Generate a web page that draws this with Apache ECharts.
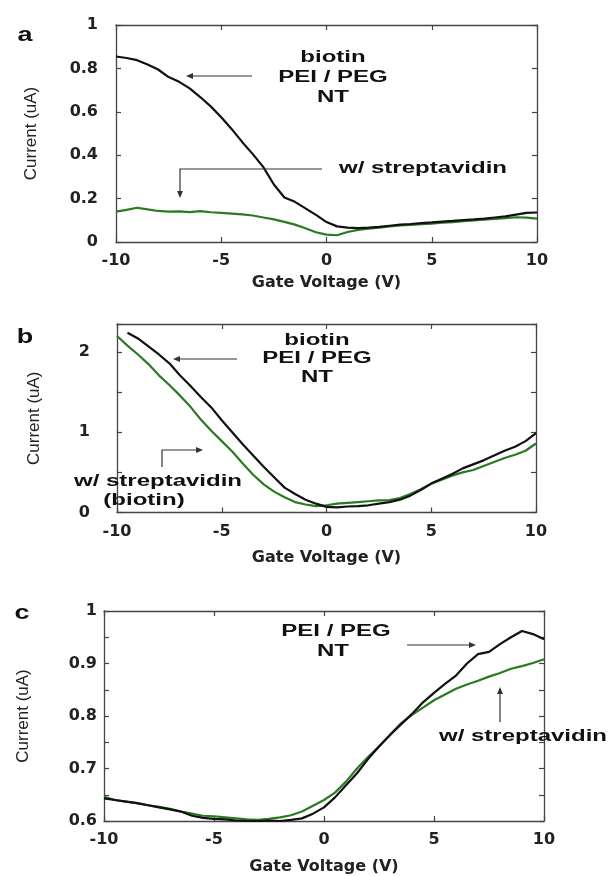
<!DOCTYPE html>
<html>
<head>
<meta charset="utf-8">
<script src="https://cdn.jsdelivr.net/npm/echarts@6/dist/echarts.min.js"></script>
<style>
html,body{margin:0;padding:0;background:#fff;}
#chart{width:615px;height:876px;}
</style>
</head>
<body>
<div id="chart"></div>
<script>
// ---------------- DATA ----------------
const voltage = [-10,-9.5,-9,-8.5,-8,-7.5,-7,-6.5,-6,-5.5,-5,-4.5,-4,-3.5,-3,-2.5,-2,-1.5,-1,-0.5,0,
                 0.5,1,1.5,2,2.5,3,3.5,4,4.5,5,5.5,6,6.5,7,7.5,8,8.5,9,9.5,10];

// panel a
const aBiotin = [0.855,0.848,0.838,0.818,0.795,0.760,0.738,0.708,0.668,0.625,0.575,0.520,0.460,0.405,0.345,0.265,0.205,0.185,0.155,0.125,0.092,
                 0.072,0.066,0.064,0.066,0.070,0.075,0.080,0.083,0.087,0.090,0.094,0.097,0.101,0.104,0.108,0.113,0.118,0.126,0.134,0.136];
const aStrep  = [0.140,0.148,0.158,0.150,0.143,0.140,0.141,0.138,0.142,0.137,0.134,0.131,0.127,0.122,0.113,0.104,0.093,0.080,0.063,0.045,0.034,
                 0.031,0.046,0.056,0.061,0.066,0.072,0.076,0.079,0.082,0.085,0.089,0.092,0.096,0.099,0.103,0.106,0.110,0.114,0.112,0.108];
// panel b
const bBiotin = [null,2.24,2.17,2.07,1.97,1.86,1.71,1.58,1.44,1.31,1.15,1.00,0.85,0.71,0.57,0.44,0.31,0.23,0.16,0.11,0.07,
                 0.065,0.075,0.08,0.09,0.11,0.13,0.16,0.21,0.28,0.36,0.42,0.48,0.55,0.60,0.65,0.71,0.77,0.82,0.89,0.99];
const bStrep  = [2.20,2.08,1.97,1.85,1.71,1.59,1.46,1.32,1.16,1.02,0.89,0.76,0.61,0.47,0.35,0.26,0.19,0.13,0.10,0.08,0.09,
                 0.11,0.12,0.13,0.14,0.15,0.155,0.18,0.23,0.29,0.36,0.41,0.46,0.50,0.53,0.58,0.63,0.68,0.72,0.77,0.86];
// panel c
const cNT     = [0.643,0.640,0.637,0.634,0.630,0.626,0.622,0.618,0.610,0.606,0.604,0.603,0.601,0.600,0.600,0.601,0.600,0.602,0.605,0.614,0.626,
                 0.645,0.668,0.691,0.718,0.742,0.764,0.784,0.804,0.826,0.844,0.861,0.877,0.900,0.918,0.922,0.937,0.950,0.962,0.956,0.946];
const cStrep  = [0.646,0.640,0.637,0.634,0.630,0.627,0.623,0.618,0.614,0.610,0.609,0.607,0.605,0.603,0.602,0.604,0.607,0.611,0.618,0.629,0.640,
                 0.654,0.675,0.700,0.722,0.742,0.764,0.786,0.802,0.816,0.830,0.841,0.852,0.860,0.867,0.875,0.882,0.890,0.895,0.901,0.908];

const xTicks = {min:-10, max:10, interval:5};
const yA = {min:0, max:1, interval:0.2};
const yB = {min:0, max:2.35, interval:0.5};
const yC = {min:0.6, max:1, interval:0.05};

const xName = 'Gate Voltage (V)';
const yName = 'Current (uA)';
const panelLetters = ['a','b','c'];

// ---------------- STYLE / LAYOUT ----------------
const BLACK = '#111111';
const GREEN = '#2b7a22';
const AXIS = '#444444';
const tickFont = {fontFamily:'DejaVu Sans', fontWeight:'bold', fontSize:16, color:'#222'};

const grids = [
  {left:116, top:25, width:421, height:217},
  {left:117, top:324, width:419, height:188.5},
  {left:104, top:611, width:440, height:211.5}
];
const yLabelMargin = [18, 27, 7];
const yNameGap = [76, 74, 72];
const xNameGap = [33, 37, 38];

function pairs(xs, ys){
  const out = [];
  for (let i=0;i<xs.length;i++) if (ys[i] !== null) out.push([xs[i], ys[i]]);
  return out;
}
function near(v, step){ const r = v/step; return Math.abs(r - Math.round(r)) < 1e-6; }

const xAxes = [], yAxes = [], series = [];
const yRanges = [yA, yB, yC];
const yFormat = [
  v => (near(v,0.2) ? String(+v.toFixed(1)) : ''),
  v => (near(v,1) ? String(Math.round(v)) : ''),
  v => (near(v,0.1) ? String(+v.toFixed(1)) : '')
];

grids.forEach((g, i) => {
  const line = {show:true, onZero:false, lineStyle:{color:AXIS, width:1.3}};
  const tick = {show:true, inside:true, length:5, lineStyle:{color:AXIS, width:1.2}};
  xAxes.push({type:'value', gridIndex:i, position:'bottom', min:xTicks.min, max:xTicks.max, interval:xTicks.interval,
    axisLine:line, axisTick:tick, splitLine:{show:false},
    axisLabel:Object.assign({margin:11}, tickFont),
    name:xName, nameLocation:'middle', nameGap:xNameGap[i],
    nameTextStyle:{fontFamily:'DejaVu Sans', fontWeight:'bold', fontSize:16, color:'#222'}});
  xAxes.push({type:'value', gridIndex:i, position:'top', min:xTicks.min, max:xTicks.max, interval:xTicks.interval,
    axisLine:line, axisTick:tick, splitLine:{show:false}, axisLabel:{show:false}});
  const r = yRanges[i];
  yAxes.push({type:'value', gridIndex:i, position:'left', min:r.min, max:r.max, interval:r.interval,
    axisLine:line, axisTick:tick, splitLine:{show:false},
    axisLabel:Object.assign({margin:yLabelMargin[i], formatter:yFormat[i], showMaxLabel:true}, tickFont),
    name:yName, nameLocation:'middle', nameGap:yNameGap[i],
    nameTextStyle:{fontFamily:'Liberation Sans', fontSize:17, color:'#222'}});
  yAxes.push({type:'value', gridIndex:i, position:'right', min:r.min, max:r.max, interval:r.interval,
    axisLine:line, axisTick:tick, splitLine:{show:false}, axisLabel:{show:false}});
});

const dataSets = [[aStrep, aBiotin],[bStrep, bBiotin],[cStrep, cNT]];
dataSets.forEach((pair, i) => {
  series.push({type:'line', xAxisIndex:2*i, yAxisIndex:2*i, data:pairs(voltage, pair[0]),
    showSymbol:false, lineStyle:{color:GREEN, width:2.2}, itemStyle:{color:GREEN}, z:2, animation:false});
  series.push({type:'line', xAxisIndex:2*i, yAxisIndex:2*i, data:pairs(voltage, pair[1]),
    showSymbol:false, lineStyle:{color:BLACK, width:2.2}, itemStyle:{color:BLACK}, z:3, animation:false});
});

// ---------------- ANNOTATIONS ----------------
const SX = 1.5;
function txt(text, x, y, opts){
  opts = opts || {};
  return {type:'text', x:x, y:y, scaleX: opts.scaleX || SX, z:100,
    style:{text:text, fill:'#111', font:(opts.weight||'bold')+' '+(opts.size||16)+'px "Liberation Sans", Arial, sans-serif',
      align:opts.align||'center', textAlign:opts.align||'center', verticalAlign:'middle', textVerticalAlign:'middle'}};
}
function poly(points){
  return {type:'polyline', z:100, shape:{points:points}, style:{stroke:'#333', lineWidth:1.2, fill:null}};
}
function head(x, y, dir){
  const L = 7, W = 3;
  let pts;
  if (dir==='left') pts = [[x,y],[x+L,y-W],[x+L,y+W]];
  else if (dir==='right') pts = [[x,y],[x-L,y-W],[x-L,y+W]];
  else if (dir==='down') pts = [[x,y],[x-W,y-L],[x+W,y-L]];
  else pts = [[x,y],[x-W,y+L],[x+W,y+L]];
  return {type:'polygon', z:100, shape:{points:pts}, style:{fill:'#333'}};
}

const graphic = [
  txt(panelLetters[0], 25, 35, {size:20, scaleX:1.35}),
  txt(panelLetters[1], 25, 337, {size:20, scaleX:1.35}),
  txt(panelLetters[2], 22, 613, {size:20, scaleX:1.35}),
  // panel a
  txt('biotin', 333, 58), txt('PEI / PEG', 333, 78), txt('NT', 333, 98),
  poly([[252,76],[190,76]]), head(186,76,'left'),
  txt('w/ streptavidin', 423, 169),
  poly([[322,169],[180,169],[180,193]]), head(180,198,'down'),
  // panel b
  txt('biotin', 317, 341), txt('PEI / PEG', 317, 359), txt('NT', 317, 378),
  poly([[237,359],[177,359]]), head(173,359,'left'),
  txt('w/ streptavidin', 158, 482), txt('(biotin)', 144, 501),
  poly([[162,467],[162,450],[198,450]]), head(203,450,'right'),
  // panel c
  txt('PEI / PEG', 336, 632), txt('NT', 333, 652),
  poly([[407,645],[471,645]]), head(476,645,'right'),
  txt('w/ streptavidin', 523, 737),
  poly([[500,722],[500,692]]), head(500,687,'up')
];

const chart = echarts.init(document.getElementById('chart'), null, {renderer:'canvas'});
chart.setOption({
  backgroundColor:'#ffffff',
  animation:false,
  grid: grids,
  xAxis: xAxes,
  yAxis: yAxes,
  series: series,
  graphic: {elements: graphic}
});
</script>
</body>
</html>
